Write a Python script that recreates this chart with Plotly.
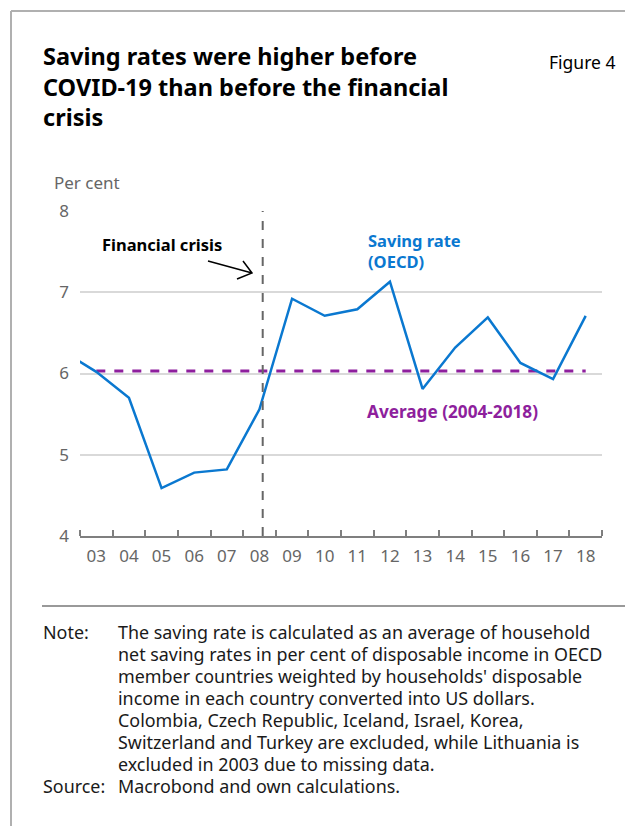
import plotly.graph_objects as go

# household saving rate, OECD, per cent of disposable income
years = [2002, 2003, 2004, 2005, 2006, 2007, 2008, 2009, 2010,
         2011, 2012, 2013, 2014, 2015, 2016, 2017, 2018]
saving_rate = [6.27, 6.02, 5.70, 4.59, 4.78, 4.82, 5.56, 6.92, 6.71,
               6.79, 7.13, 5.81, 6.32, 6.69, 6.13, 5.93, 6.71]

avg_years = [2003, 2018]
avg_value = [6.03, 6.03]

tick_years = list(range(2003, 2019))
tick_text = ['03', '04', '05', '06', '07', '08', '09', '10', '11',
             '12', '13', '14', '15', '16', '17', '18']
y_ticks = [4, 5, 6, 7, 8]

crisis_year = 2008.1

title = ("Saving rates were higher before<br>COVID-19 than before the financial"
         "<br>crisis")
note_lines = [
    "The saving rate is calculated as an average of household",
    "net saving rates in per cent of disposable income in OECD",
    "member countries weighted by households' disposable",
    "income in each country converted into US dollars.",
    "Colombia, Czech Republic, Iceland, Israel, Korea,",
    "Switzerland and Turkey are excluded, while Lithuania is",
    "excluded in 2003 due to missing data.",
]
source_text = "Macrobond and own calculations."

BLUE = '#0a78d0'
PURPLE = '#8e1f9d'
GREY = '#666666'
TXT = '#1a1a1a'
FONT = 'Noto Sans'

# the page puts the figure 8px in from the corner, so work in page pixels
# and keep the figure small enough that no scrollbars show up
OFF = 8
W, H = 633 - 2 * OFF, 834 - 2 * OFF
L, R, T = 80 - OFF, 625 - 602, 211 - OFF
B = H - (536 - OFF)
PW, PH = W - L - R, H - T - B


def px(x):
    return (x - OFF - L) / PW


def py(y):
    return (H - B - (y - OFF)) / PH


fig = go.Figure()
fig.add_trace(go.Scatter(x=avg_years, y=avg_value, mode='lines',
                         line=dict(color=PURPLE, width=3, dash='dash'),
                         hoverinfo='skip'))
fig.add_trace(go.Scatter(x=years, y=saving_rate, mode='lines',
                         line=dict(color=BLUE, width=2.5)))

ann = []
ann.append(dict(text=title, x=px(41), y=py(38), xanchor='left', yanchor='top',
                align='left', font=dict(size=23.5, color='#000000', family=FONT, weight='bold')))
ann.append(dict(text='Figure 4', x=px(547), y=py(62), xanchor='left', yanchor='middle',
                font=dict(size=17.5, color='#000000', family=FONT)))
ann.append(dict(text='Per cent', x=px(52), y=py(182), xanchor='left', yanchor='middle',
                font=dict(size=17, color=GREY, family=FONT)))
ann.append(dict(text='Financial crisis', x=px(100), y=py(244), xanchor='left', yanchor='middle',
                font=dict(size=16.5, color='#000000', family=FONT, weight='bold')))
ann.append(dict(text='Saving rate<br>(OECD)', x=px(366), y=py(251), xanchor='left', yanchor='middle',
                align='left', font=dict(size=16.5, color=BLUE, family=FONT, weight='bold')))
ann.append(dict(text='Average (2004-2018)', x=px(365), y=py(411), xanchor='left', yanchor='middle',
                font=dict(size=17.2, color=PURPLE, family=FONT, weight='bold')))

for i, line in enumerate(note_lines):
    ann.append(dict(text=line, x=px(116), y=py(632 + 22 * i), xanchor='left', yanchor='middle',
                    font=dict(size=17.9, color=TXT, family=FONT)))
ann.append(dict(text='Note:', x=px(41), y=py(632), xanchor='left', yanchor='middle',
                font=dict(size=17.9, color=TXT, family=FONT)))
ann.append(dict(text='Source:', x=px(41), y=py(786), xanchor='left', yanchor='middle',
                font=dict(size=17.9, color=TXT, family=FONT)))
ann.append(dict(text=source_text, x=px(116), y=py(786), xanchor='left', yanchor='middle',
                font=dict(size=17.9, color=TXT, family=FONT)))
for a in ann:
    a.update(xref='paper', yref='paper', showarrow=False)

shapes = [
    # frame, only top and left edges are in view
    dict(type='line', xref='paper', yref='paper', x0=px(11), y0=py(11), x1=px(640), y1=py(11),
         line=dict(color='#b0b0b0', width=2)),
    dict(type='line', xref='paper', yref='paper', x0=px(11), y0=py(11), x1=px(11), y1=py(840),
         line=dict(color='#b0b0b0', width=2)),
    # separator above notes
    dict(type='line', xref='paper', yref='paper', x0=px(42), y0=py(606), x1=px(640), y1=py(606),
         line=dict(color='#999999', width=2)),
    # financial crisis
    dict(type='line', xref='x', yref='y', x0=crisis_year, x1=crisis_year, y0=4, y1=8,
         line=dict(color=GREY, width=2, dash='dash')),
    # arrow
    dict(type='path', xref='paper', yref='paper',
         path='M %f %f L %f %f M %f %f L %f %f L %f %f' % (
             px(208), py(261), px(252), py(273),
             px(243), py(261), px(252), py(273), px(237), py(279)),
         line=dict(color='#000000', width=1.5)),
]

fig.update_layout(
    width=W, height=H,
    margin=dict(l=L, r=R, t=T, b=B),
    paper_bgcolor='white', plot_bgcolor='white',
    showlegend=False,
    annotations=ann,
    shapes=shapes,
    font=dict(family=FONT, size=17, color=GREY),
)
fig.update_xaxes(range=[2002.5, 2018.5], tickvals=tick_years, ticktext=tick_text,
                 showgrid=False, zeroline=False, ticks='',
                 showline=True, linecolor='#7f7f7f', linewidth=1.5,
                 tickfont=dict(size=17, color=GREY, family=FONT), ticklabelstandoff=4,
                 minor=dict(tickvals=[y + 0.5 for y in range(2002, 2019)], ticks='inside',
                            ticklen=6, tickwidth=1.5, tickcolor='#7f7f7f', showgrid=False))
fig.update_yaxes(range=[4, 8], tickvals=y_ticks, showgrid=True, gridcolor='#d9d9d9',
                 gridwidth=1.5, zeroline=False, showline=False, ticks='',
                 tickfont=dict(size=17, color=GREY, family=FONT), ticklabelstandoff=10)

fig.write_html("out.html")
